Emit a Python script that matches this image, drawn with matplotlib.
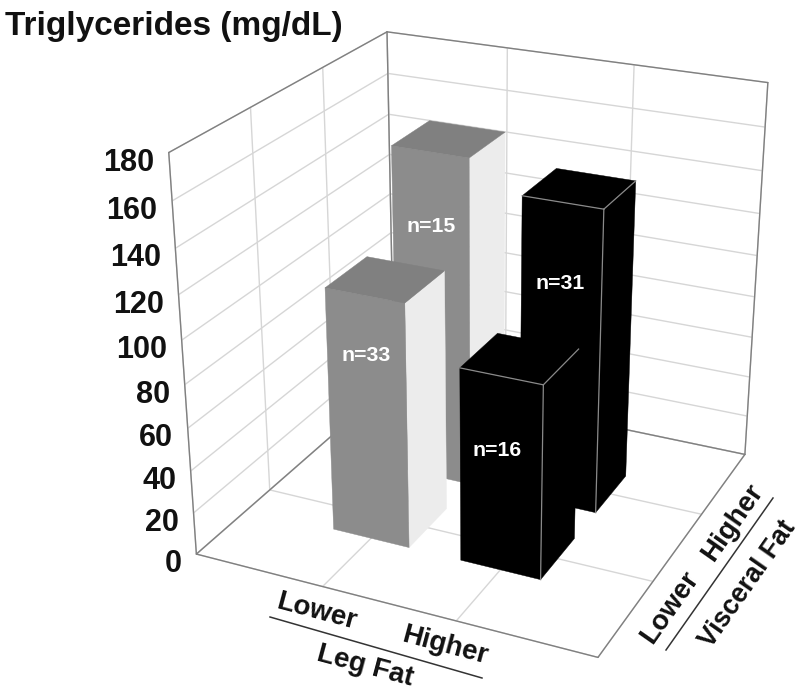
import numpy as np, matplotlib
matplotlib.use('Agg')
import matplotlib.pyplot as plt
from matplotlib.lines import Line2D
from mpl_toolkits.mplot3d import Axes3D, proj3d

# ---- data
leg_pos = [1, 2, 1, 2]            # Leg fat: lower / higher
visc_pos = [1, 1, 2, 2]           # Visceral fat: lower / higher
values = [114, 90, 156, 143]      # Triglycerides (mg/dL)
counts = ['n=33', 'n=16', 'n=15', 'n=31']
z_ticks = list(range(0, 181, 20))
grid_ticks = [0, 1, 2, 3]
title = 'Triglycerides (mg/dL)'

FONT = 'Liberation Sans'
plt.rcParams['font.family'] = FONT
plt.rcParams['grid.color'] = '#d6d6d6'
plt.rcParams['grid.linewidth'] = 1.0
plt.rcParams['axes3d.grid'] = True

W, H = 800, 696
fig = plt.figure(figsize=(W/100, H/100), dpi=100, facecolor='white')
ax = fig.add_axes([0, 0, 1, 1], projection='3d', computed_zorder=False)
ax.set_xlim(0, 3); ax.set_ylim(0, 3); ax.set_zlim(0, 180)
ax.view_init(elev=24.327, azim=-65.13, roll=-0.015)
ax.set_proj_type('persp', focal_length=abs(0.46061)+0.05)
ax.set_box_aspect((1, 0.99962, 0.98285))

# place the axes so that one projection unit = 3888.6 px
SCALE, TX, TY = 3888.557, 483.3, 696-317.342
S = 720
ax.set_position([0.1, 0.1, S/W, S/H])
t = ax.transData.transform
a = (t((1, 1)) - t((0, 0)))[0]
S = S*SCALE/a
ax.set_position([0.1, 0.1, S/W, S/H])
o = ax.transData.transform((0, 0))
ax.set_position([0.1+(TX-o[0])/W, 0.1+(TY-o[1])/H, S/W, S/H])

ax.set_xticks(grid_ticks); ax.set_yticks(grid_ticks); ax.set_zticks(z_ticks)
ax.set_xticklabels([]); ax.set_yticklabels([]); ax.set_zticklabels([])
for axis in (ax.xaxis, ax.yaxis, ax.zaxis):
    axis.set_pane_color((1, 1, 1, 1))
    axis.pane.set_edgecolor((1, 1, 1, 0))
    axis.line.set_color((1, 1, 1, 0))
    axis._axinfo['tick']['inward_factor'] = 0
    axis._axinfo['tick']['outward_factor'] = 0
    axis.set_tick_params(color=(1, 1, 1, 0))
    axis.label.set_visible(False)
    axis.offsetText.set_visible(False)

def display_xy(x, y, z):
    u, v, _ = proj3d.proj_transform(x, y, z, ax.get_proj())
    return ax.transData.transform((u, v))

# frame
X1, Y1, Z1 = 3, 3, 180
frame = [((0, 0, 0), (X1, 0, 0)), ((X1, 0, 0), (X1, Y1, 0)), ((X1, Y1, 0), (0, Y1, 0)), ((0, Y1, 0), (0, 0, 0)),
         ((0, 0, 0), (0, 0, Z1)), ((0, 0, Z1), (0, Y1, Z1)), ((0, Y1, Z1), (X1, Y1, Z1)),
         ((X1, Y1, Z1), (X1, Y1, 0)), ((0, Y1, 0), (0, Y1, Z1))]
for p, q in frame:
    ax.plot(*zip(p, q), color='#808080', lw=1.0, zorder=1, solid_capstyle='round')

NONE = (0, 0, 0, 0)
WID = 0.6
order = [2, 3, 0, 1]
label_frac = [0.762, 0.625, 0.781, 0.746]
label_dx = [0, -4, 0, -1]
for k, i in enumerate(order):
    x0, y0 = leg_pos[i]-WID/2, visc_pos[i]-WID/2
    h = values[i]
    if leg_pos[i] == 1:
        top, front, right = '#808080', '#8c8c8c', '#ececec'
    else:
        top, front, right = '#000000', '#000000', '#000000'
    fc = [NONE, top, front, NONE, NONE, right]
    ax.bar3d(x0, y0, 0, WID, WID, h, color=fc, edgecolor=fc, linewidth=0.3, shade=False, zorder=3+k*2)
    if leg_pos[i] == 2:
        x1, y1 = x0+WID, y0+WID
        for p, q in [((x0, y0, h), (x1, y0, h)), ((x1, y0, h), (x1, y1, h)), ((x1, y0, h), (x1, y0, 0))]:
            ax.plot(*zip(p, q), color='#8a8a8a', lw=0.9, zorder=4+k*2)
    px, py = display_xy(leg_pos[i], y0, h*label_frac[i])
    fig.text((px+label_dx[i])/W, py/H, counts[i], color='white', fontsize=15.3, fontweight='bold',
             ha='center', va='center')

# z tick labels
for z in z_ticks:
    px, py = display_xy(0, 0, z)
    fig.text((px-14.5)/W, (py-10)/H, str(z), ha='right', va='center', fontsize=22, fontweight='bold', color='#111111')

def ftext(x, y, s, rot=0, size=20, ha='center'):
    fig.text(x/W, 1-y/H, s, rotation=rot, rotation_mode='anchor', ha=ha, va='center',
             fontsize=size, fontweight='bold', color='#111111')
ftext(5, 27, title, size=24, ha='left')
ftext(316, 612, 'Lower', rot=-15)
ftext(445, 646, 'Higher', rot=-15)
ftext(365, 666, 'Leg Fat', rot=-15)
ftext(670, 607, 'Lower', rot=55)
ftext(733, 523, 'Higher', rot=55)
ftext(748, 584, 'Visceral Fat', rot=55, size=19.2)
for (a0, b0), (a1, b1) in [((270, 617), (482, 678)), ((666, 650), (773, 498))]:
    fig.add_artist(Line2D([a0/W, a1/W], [1-b0/H, 1-b1/H], color='#333333', lw=1.1))

fig.savefig('out.png', dpi=100)
